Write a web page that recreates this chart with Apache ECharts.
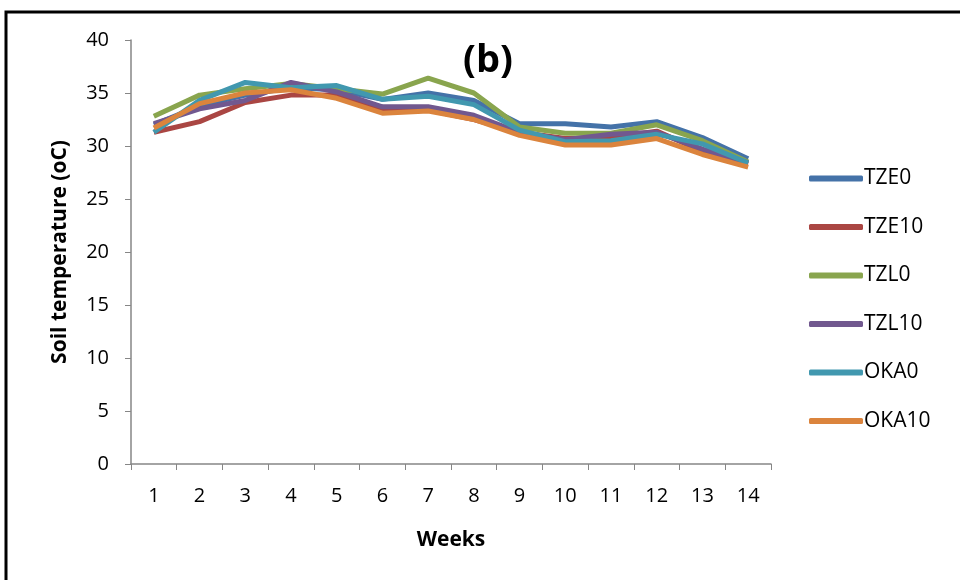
<!DOCTYPE html>
<html>
<head>
<meta charset="utf-8">
<script src="https://cdn.jsdelivr.net/npm/echarts@6/dist/echarts.min.js"></script>
<style>
  html, body { margin: 0; padding: 0; background: #fff; }
  #chart { width: 960px; height: 580px; }
</style>
</head>
<body>
<div id="chart"></div>
<script>
// weeks and soil temperature per treatment
const weeks = ['1', '2', '3', '4', '5', '6', '7', '8', '9', '10', '11', '12', '13', '14'];
const yTicks = [0, 5, 10, 15, 20, 25, 30, 35, 40];

const TZE0 = [32.0, 33.8, 34.8, 35.5, 35.3, 34.4, 35.0, 34.3, 32.1, 32.1, 31.8, 32.3, 30.8, 28.8];
const TZE10 = [31.3, 32.3, 34.1, 34.8, 34.8, 33.3, 33.4, 32.5, 31.3, 30.7, 30.8, 31.4, 29.5, 28.3];
const TZL0 = [32.8, 34.8, 35.4, 35.9, 35.4, 34.9, 36.4, 35.0, 31.8, 31.2, 31.2, 32.0, 30.5, 28.5];
const TZL10 = [32.1, 33.5, 34.3, 36.0, 35.1, 33.7, 33.7, 32.9, 31.3, 30.6, 31.1, 31.3, 29.7, 28.4];
const OKA0 = [31.3, 34.3, 36.0, 35.5, 35.7, 34.4, 34.7, 33.9, 31.5, 30.4, 30.5, 31.1, 30.2, 28.4];
const OKA10 = [31.7, 34.0, 35.0, 35.3, 34.5, 33.1, 33.3, 32.5, 31.0, 30.1, 30.1, 30.7, 29.2, 28.0];

const names = ['TZE0', 'TZE10', 'TZL0', 'TZL10', 'OKA0', 'OKA10'];
const values = [TZE0, TZE10, TZL0, TZL10, OKA0, OKA10];
const colors = ['#4472a8', '#aa4643', '#89a54e', '#71588f', '#4198af', '#db843d'];

document.addEventListener('DOMContentLoaded', function () {
    const chart = echarts.init(document.getElementById('chart'));
    const font = 'Open Sans, Liberation Sans, sans-serif';

    chart.setOption({
        animation: false,
        textStyle: { fontFamily: font },
        graphic: [
            {
                type: 'rect',
                shape: { x: 6, y: 12, width: 1000, height: 1000 },
                style: { fill: 'none', stroke: '#000', lineWidth: 3 }
            },
            {
                type: 'text',
                left: 463, top: 42,
                style: { text: '(b)', font: 'bold 38px ' + font, fill: '#000' }
            }
        ],
        grid: { left: 131, right: 189, top: 40, bottom: 116 },
        legend: {
            orient: 'vertical',
            left: 804,
            top: 163,
            itemWidth: 54,
            itemHeight: 6,
            itemGap: 27.5,
            icon: 'roundRect',
            textStyle: { fontSize: 21, color: '#000', fontFamily: font, padding: [0, 0, 0, -4] },
            data: names
        },
        xAxis: {
            type: 'category',
            data: weeks,
            name: 'Weeks',
            nameLocation: 'middle',
            nameGap: 66,
            nameTextStyle: { fontSize: 21, fontWeight: 'bold', color: '#000' },
            axisLine: { lineStyle: { color: '#868686', width: 1.5 } },
            axisTick: { show: true, length: 6, lineStyle: { color: '#868686' } },
            axisLabel: { fontSize: 20, color: '#000', margin: 22 }
        },
        yAxis: {
            type: 'value',
            min: yTicks[0],
            max: yTicks[yTicks.length - 1],
            interval: 5,
            name: 'Soil temperature (oC)',
            nameLocation: 'middle',
            nameGap: 60,
            nameTextStyle: { fontSize: 21, fontWeight: 'bold', color: '#000' },
            axisLine: { show: true, lineStyle: { color: '#868686', width: 1.5 } },
            axisTick: { show: true, length: 6, inside: false, lineStyle: { color: '#868686' } },
            axisLabel: { fontSize: 20, color: '#000', margin: 22 },
            splitLine: { show: false }
        },
        series: names.map(function (n, i) {
            return {
                name: n,
                type: 'line',
                data: values[i],
                symbol: 'none',
                color: colors[i],
                lineStyle: { width: 5, color: colors[i] }
            };
        })
    });
});
</script>
</body>
</html>
